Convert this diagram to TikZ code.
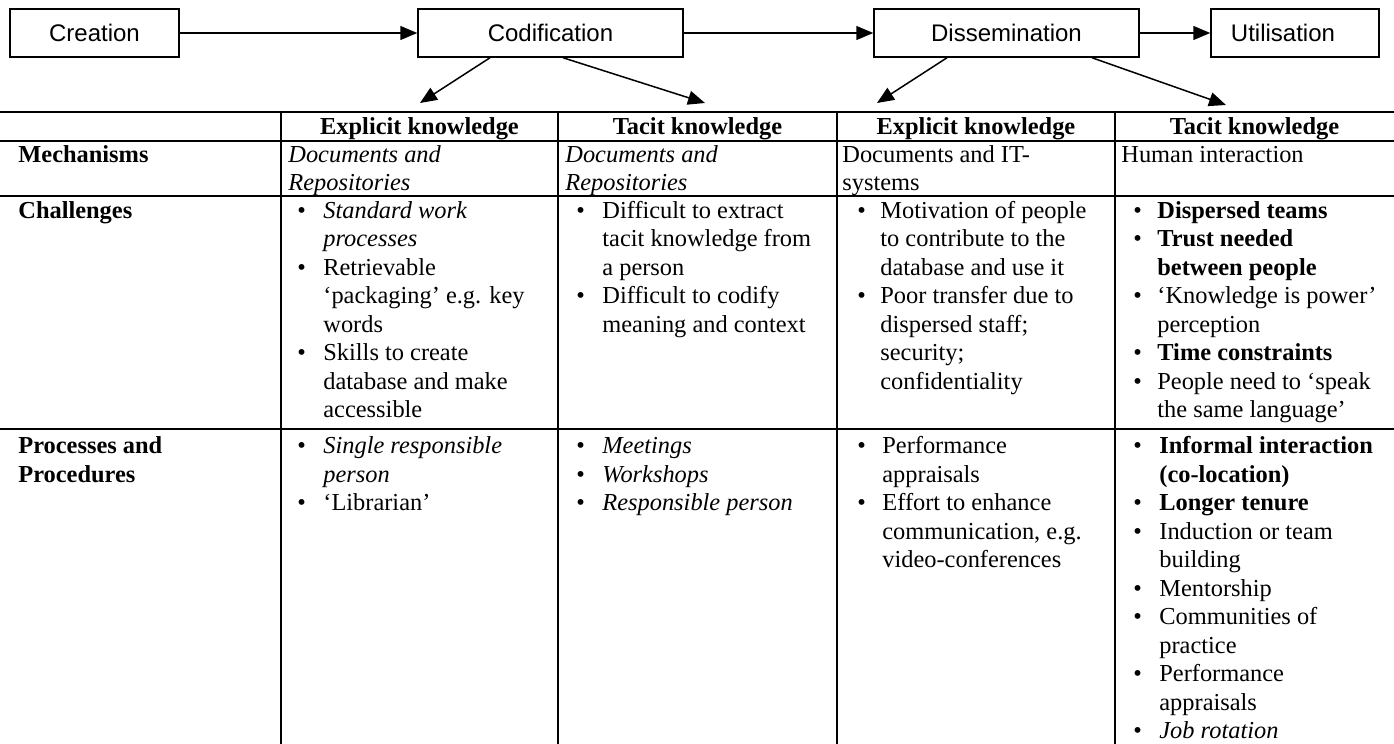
\documentclass[tikz,border=0pt]{standalone}
\usepackage{fontspec}
\setmainfont{Liberation Serif}
\newfontfamily\sansf{Liberation Sans}
\usetikzlibrary{arrows.meta}
\newcommand{\bul}[2]{\par\noindent\hangindent=#1\hangafter=1\makebox[#1][l]{\textbullet}#2}
\newenvironment{cellx}[1]{\begin{minipage}[t]{#1}\fontsize{12.2}{14.25}\selectfont}{\end{minipage}}
\begin{document}
\begin{tikzpicture}[x=0.5pt,y=-0.5pt,
  pbox/.style={draw, line width=0.75pt, minimum height=24pt, inner sep=0pt, font=\sansf\fontsize{12}{14}\selectfont},
  arr/.style={line width=0.75pt, -{Triangle[length=8.5pt,width=7pt]}},
  tline/.style={line width=1.2pt},
  tcell/.style={anchor=base west, inner sep=0pt, font=\fontsize{12.2}{14.25}\selectfont},
  thead/.style={anchor=base, inner sep=0pt, font=\fontsize{12.2}{14.25}\selectfont\bfseries}]
\useasboundingbox (0,0) rectangle (1394,744);
% process boxes
\node[pbox, minimum width=84.5pt] (cre) at (94.5,33) {Creation};
\node[pbox, minimum width=132.5pt] (cod) at (550.5,33) {Codification};
\node[pbox, minimum width=132.5pt] (dis) at (1006.5,33) {Dissemination};
\node[pbox, minimum width=84pt] (uti) at (1295,33) {\hspace{-12pt}Utilisation};
\draw[arr] (cre) -- (cod);
\draw[arr] (cod) -- (dis);
\draw[arr] (dis) -- (uti);
\coordinate (t1) at (420,103);
\coordinate (t2) at (705,103);
\coordinate (t3) at (877,103);
\coordinate (t4) at (1226,105);
\draw[arr] ([xshift=-30.25pt]cod.south) -- (t1);
\draw[arr] ([xshift=6.25pt]cod.south) -- (t2);
\draw[arr] ([xshift=-29.75pt]dis.south) -- (t3);
\draw[arr] ([xshift=42.75pt]dis.south) -- (t4);
% table rules
\foreach \yy in {112,141,196,429} \draw[tline] (0,\yy) -- (1394,\yy);
\foreach \xx in {281,558,837,1115} \draw[tline] (\xx,112) -- (\xx,744);
% header
\node[thead] (h2) at (419.5,134) {Explicit knowledge};
\node[thead] (h3) at (697.5,134) {Tacit knowledge};
\node[thead] (h4) at (976,134) {Explicit knowledge};
\node[thead] (h5) at (1254.5,134) {Tacit knowledge};
% row labels
\node[tcell] (l1) at (18,162) {\textbf{Mechanisms}};
\node[tcell] (l2) at (18,218) {\textbf{Challenges}};
\node[tcell] (l3) at (18,453.5) {\begin{cellx}{130pt}\textbf{Processes and\\Procedures}\end{cellx}};
% mechanisms
\node[tcell] (m2) at (288,162) {\begin{cellx}{130pt}\textit{Documents and\\Repositories}\end{cellx}};
\node[tcell] (m3) at (565,162) {\begin{cellx}{130pt}\textit{Documents and\\Repositories}\end{cellx}};
\node[tcell] (m4) at (842,162) {\begin{cellx}{130pt}Documents and IT-\\systems\end{cellx}};
\node[tcell] (m5) at (1121,162) {Human interaction};
% challenges
\node[tcell] (c2) at (297,218) {\begin{cellx}{130pt}%
\bul{13pt}{\textit{Standard work\\processes}}%
\bul{13pt}{Retrievable\\‘packaging’ e.g. key\\words}%
\bul{13pt}{Skills to create\\database and make\\accessible}\end{cellx}};
\node[tcell] (c3) at (576,218) {\begin{cellx}{130pt}%
\bul{13pt}{Difficult to extract\\tacit knowledge from\\a person}%
\bul{13pt}{Difficult to codify\\meaning and context}\end{cellx}};
\node[tcell] (c4) at (857,218) {\begin{cellx}{130pt}%
\bul{11.5pt}{Motivation of people\\to contribute to the\\database and use it}%
\bul{11.5pt}{Poor transfer due to\\dispersed staff;\\security;\\confidentiality}\end{cellx}};
\node[tcell] (c5) at (1133,218) {\begin{cellx}{130pt}%
\bul{12pt}{\textbf{Dispersed teams}}%
\bul{12pt}{\textbf{Trust needed\\between people}}%
\bul{12pt}{‘Knowledge is power’\\perception}%
\bul{12pt}{\textbf{Time constraints}}%
\bul{12pt}{People need to ‘speak\\the same language’}\end{cellx}};
% processes
\node[tcell] (p2) at (297,453.5) {\begin{cellx}{130pt}%
\bul{13pt}{\textit{Single responsible\\person}}%
\bul{13pt}{‘Librarian’}\end{cellx}};
\node[tcell] (p3) at (576,453.5) {\begin{cellx}{130pt}%
\bul{13pt}{\textit{Meetings}}%
\bul{13pt}{\textit{Workshops}}%
\bul{13pt}{\textit{Responsible person}}\end{cellx}};
\node[tcell] (p4) at (857,453.5) {\begin{cellx}{130pt}%
\bul{12.5pt}{Performance\\appraisals}%
\bul{12.5pt}{Effort to enhance\\communication, e.g.\\video-conferences}\end{cellx}};
\node[tcell] (p5) at (1133,453.5) {\begin{cellx}{130pt}%
\bul{13pt}{\textbf{Informal interaction\\(co-location)}}%
\bul{13pt}{\textbf{Longer tenure}}%
\bul{13pt}{Induction or team\\building}%
\bul{13pt}{Mentorship}%
\bul{13pt}{Communities of\\practice}%
\bul{13pt}{Performance\\appraisals}%
\bul{13pt}{\textit{Job rotation}}\end{cellx}};
\end{tikzpicture}
\end{document}
